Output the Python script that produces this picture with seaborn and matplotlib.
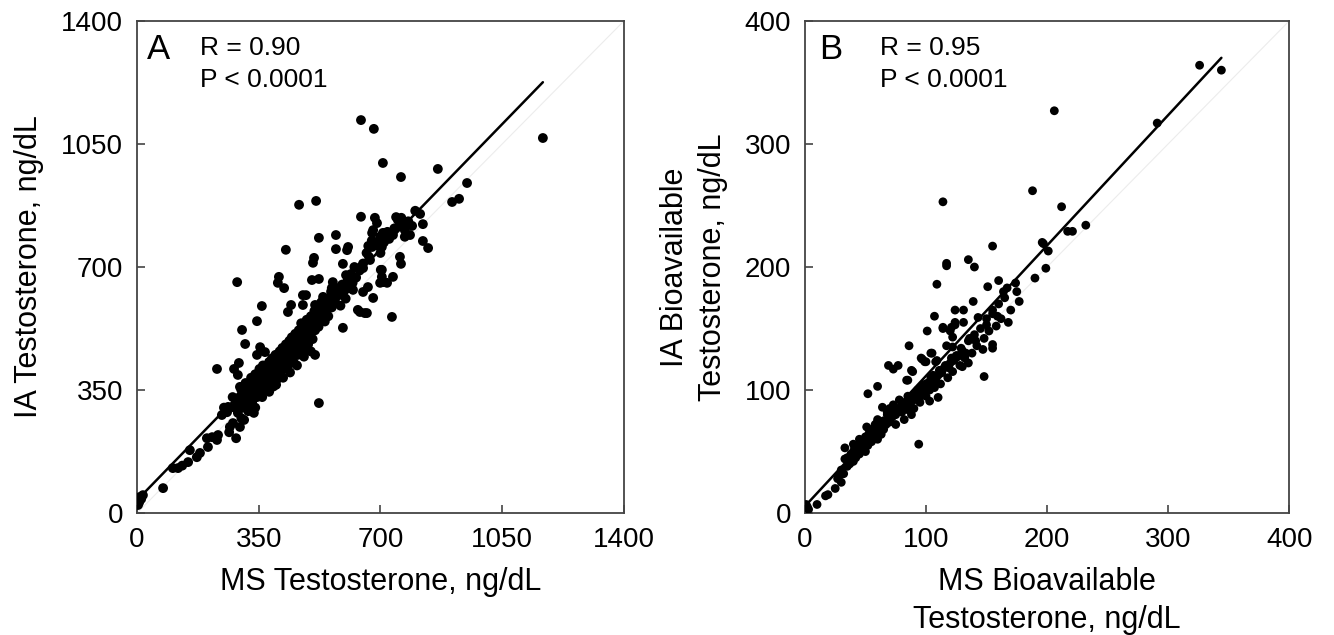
import matplotlib
matplotlib.use('Agg')
import matplotlib.pyplot as plt
import seaborn as sns
import pandas as pd

# Panel A: total testosterone, MS vs IA (ng/dL)
ms_t = [
    644, 681, 707, 466, 515, 288, 428, 523, 572, 644, 684, 690, 408, 405, 423, 506, 509, 592, 607, 604,
    572, 503, 523, 486, 535, 563, 560, 569, 601, 644, 650, 667, 670, 676, 679, 707, 699, 676, 704, 707,
    704, 707, 679, 621, 650, 664, 759, 865, 949, 906, 926, 1167, 814, 822, 822, 837, 791, 765, 770, 785,
    770, 745, 750, 756, 736, 713, 756, 759, 701, 704, 736, 719, 699, 733, 635, 655, 661, 641,
    359, 345, 302, 311, 230, 279, 290, 293, 345, 354, 368, 523, 592, 512, 477, 477, 512, 443, 434,
    0, 9, 17, 3, 6, 12, 75, 103, 118, 130, 152, 147, 172, 181, 204, 201, 216, 230, 233, 244,
    262, 259, 285, 267, 276, 296, 316, 331, 336, 308, 296,
    280, 285, 290, 295, 300, 300, 305, 310, 312, 315, 318, 320, 322, 325, 328, 330, 332, 335, 338, 340,
    342, 345, 348, 350, 352, 355, 358, 360, 362, 365, 368, 370, 372, 375, 378, 380, 382, 385, 388, 390,
    392, 395, 398, 400, 402, 405, 408, 410, 412, 415, 418, 420, 422, 425, 428, 430, 432, 435, 438, 440,
    442, 445, 448, 450, 452, 455, 458, 460, 462, 465, 468, 470, 472, 475, 478, 480, 482, 485, 488, 490,
    492, 495, 498, 500, 502, 505, 508, 510, 512, 515, 518, 520, 522, 525, 528, 530, 535, 538, 540, 545,
    548, 550, 555, 558, 560, 565, 570, 575, 580, 585, 590, 595, 600, 605, 610, 615, 620, 625, 630, 640,
    650, 660, 665, 675, 685, 695, 700, 710, 720, 725, 740, 760, 780, 800,
    250, 265, 275, 300, 320, 340, 360, 380, 400, 420, 440, 460, 480, 500,
]
ia_t = [
    1118, 1093, 996, 877, 888, 657, 749, 783, 791, 843, 840, 825, 672, 655, 640, 712, 726, 709, 757, 748,
    751, 663, 666, 620, 615, 657, 640, 629, 677, 700, 697, 729, 720, 797, 805, 797, 786, 757, 757, 771,
    692, 657, 612, 635, 629, 643, 956, 979, 939, 885, 894, 1067, 851, 822, 774, 754, 817, 814, 805, 791,
    786, 842, 834, 825, 791, 797, 729, 709, 692, 672, 672, 655, 655, 558, 578, 569, 569, 572,
    589, 546, 521, 481, 410, 410, 393, 427, 450, 472, 458, 313, 527, 450, 620, 592, 592, 592, 572,
    37, 46, 51, 23, 30, 40, 71, 128, 128, 135, 179, 145, 159, 171, 188, 213, 216, 208, 222, 279,
    302, 287, 213, 245, 256, 359, 342, 313, 285, 265, 245,
    300, 320, 285, 330, 310, 350, 300, 335, 370, 320, 345, 300, 360, 330, 385, 350, 320, 370, 340, 395,
    360, 330, 380, 350, 410, 370, 345, 390, 420, 360, 400, 380, 350, 415, 390, 430, 370, 405, 440, 395,
    360, 425, 450, 410, 380, 440, 420, 460, 395, 430, 470, 445, 410, 455, 480, 435, 465, 420, 490, 450,
    475, 500, 460, 430, 485, 510, 470, 495, 450, 520, 480, 505, 540, 490, 460, 515, 530, 500, 550, 520,
    480, 540, 510, 560, 530, 495, 550, 575, 520, 545, 590, 560, 530, 575, 550, 600, 565, 590, 545, 610,
    580, 560, 600, 630, 585, 615, 600, 640, 620, 590, 650, 630, 610, 660, 640, 680, 655, 700, 670, 690,
    710, 740, 760, 775, 770, 760, 740, 770, 800, 780, 810, 840, 830, 860,
    300, 230, 330, 270, 290, 300, 330, 345, 365, 385, 400, 420, 445, 460,
]

# Panel B: bioavailable testosterone, MS vs IA (ng/dL)
ms_bt = [
    206, 114, 188, 212, 326, 344, 291, 217, 221, 232, 197, 201, 199, 155, 117, 117, 135, 140, 109, 151,
    160, 139, 164, 167, 174, 177, 168, 190, 196, 124, 131, 124, 131, 107, 101, 114, 121, 122, 143, 150,
    155, 159, 147, 155, 155, 148, 86, 104, 97, 100, 117, 122, 126, 132, 135, 130, 69, 77, 89, 60,
    52, 84, 93, 94, 95, 103, 110, 73, 88, 85, 114, 120, 124, 96, 99, 105, 108, 109,
    0, 2, 3, 1, 10, 17, 19, 25, 27, 30, 33, 33, 40, 41, 51, 60, 60, 64, 68,
    28, 30, 32, 35, 35, 37, 38, 40, 40, 42, 43, 45, 45, 47, 48, 50, 50, 52, 53, 55,
    55, 57, 58, 60, 60, 62, 63, 65, 65, 67, 68, 70, 70, 72, 73, 75, 75, 77, 78, 80,
    80, 82, 83, 85, 85, 87, 88, 90, 90, 92, 95, 97, 100, 100, 103, 105, 107, 110, 112, 115,
    118, 120, 122, 125, 128, 130, 132, 135, 138, 140, 142, 145, 148, 150, 152, 155, 158, 160, 162, 165,
    170, 175,
    36, 39, 44, 46, 49, 51, 54, 56, 59, 61, 64, 66, 69, 71, 74, 76, 79, 81, 84, 86,
    89, 91, 94, 96, 98, 102, 104, 106, 108, 111, 113, 116, 119, 121, 123, 126, 129, 133, 136, 141,
]
ia_bt = [
    327, 253, 262, 249, 364, 360, 317, 229, 229, 234, 219, 213, 199, 217, 201, 203, 206, 200, 186, 184,
    189, 172, 180, 183, 187, 172, 155, 191, 220, 165, 165, 155, 155, 160, 148, 151, 151, 143, 159, 153,
    165, 160, 133, 137, 134, 111, 136, 130, 125, 123, 136, 135, 127, 127, 122, 119, 120, 120, 115, 103,
    97, 108, 100, 56, 95, 91, 94, 117, 116, 108, 150, 148, 153, 126, 123, 130, 123, 124,
    5, 5, 3, 7, 7, 14, 15, 20, 28, 25, 44, 53, 56, 53, 70, 76, 74, 86, 82,
    30, 35, 32, 38, 45, 40, 48, 42, 50, 45, 55, 48, 60, 52, 58, 50, 62, 55, 65, 58,
    68, 62, 72, 60, 66, 70, 64, 75, 68, 72, 80, 74, 85, 78, 88, 80, 72, 85, 92, 82,
    88, 76, 90, 84, 95, 88, 80, 92, 85, 98, 90, 100, 95, 105, 100, 108, 102, 112, 105, 118,
    110, 122, 115, 128, 120, 132, 126, 140, 130, 145, 136, 150, 142, 158, 148, 162, 152, 170, 158, 175,
    165, 180,
    40, 44, 50, 52, 53, 58, 60, 63, 66, 68, 69, 74, 75, 79, 80, 84, 83, 88, 86, 92,
    94, 97, 96, 102, 104, 106, 110, 112, 108, 116, 114, 120, 118, 126, 124, 128, 134, 130, 142, 140,
]

x_ticks_a = [0, 350, 700, 1050, 1400]
x_ticks_b = [0, 100, 200, 300, 400]

sns.set_style("ticks")
plt.rcParams['font.family'] = ['Liberation Sans', 'DejaVu Sans']
plt.rcParams['text.color'] = 'black'
plt.rcParams['axes.labelcolor'] = 'black'

df_a = pd.DataFrame({"ms": ms_t, "ia": ia_t})
df_b = pd.DataFrame({"ms": ms_bt, "ia": ia_bt})

fig = plt.figure(figsize=(13.34, 6.35), dpi=100)
ax_a = fig.add_axes([0.1027, 0.192, 0.365, 0.775])
ax_b = fig.add_axes([0.6034, 0.192, 0.363, 0.775])

panels = [
    (ax_a, df_a, x_ticks_a, 50, "A", "R = 0.90", 0.02, 0.13,
     "MS Testosterone, ng/dL", "IA Testosterone, ng/dL"),
    (ax_b, df_b, x_ticks_b, 40, "B", "R = 0.95", 0.03, 0.155,
     "MS Bioavailable\nTestosterone, ng/dL", "IA Bioavailable\nTestosterone, ng/dL"),
]

for ax, df, ticks, size, letter, r_text, lx, rx, xlab, ylab in panels:
    lim = ticks[-1]
    # faint line of identity
    ax.plot([0, lim], [0, lim], color="#ececec", lw=0.8, zorder=1)
    sns.scatterplot(data=df, x="ms", y="ia", ax=ax, color="black", s=size,
                    edgecolor="none", zorder=3)
    sns.regplot(data=df, x="ms", y="ia", ax=ax, scatter=False, ci=None, truncate=True,
                line_kws={"color": "black", "lw": 1.8, "zorder": 4})
    ax.set_xlim(0, lim)
    ax.set_ylim(0, lim)
    ax.set_xticks(ticks)
    ax.set_yticks(ticks)
    ax.tick_params(direction="in", length=6, width=1.2, color="#444444",
                   labelcolor="black", labelsize=20, pad=10)
    for sp in ax.spines.values():
        sp.set_visible(True)
        sp.set_color("#444444")
        sp.set_linewidth(1.3)
    ax.set_xlabel(xlab, fontsize=22, labelpad=10, linespacing=1.35, color="black")
    ax.set_ylabel(ylab, fontsize=22, labelpad=12, linespacing=1.35, color="black")
    ax.text(lx, 0.975, letter, transform=ax.transAxes, fontsize=25, va="top", ha="left")
    ax.text(rx, 0.97, r_text + "\nP < 0.0001", transform=ax.transAxes, fontsize=19,
            va="top", ha="left", linespacing=1.45)

fig.savefig("out.png", dpi=100)
plt.close(fig)
